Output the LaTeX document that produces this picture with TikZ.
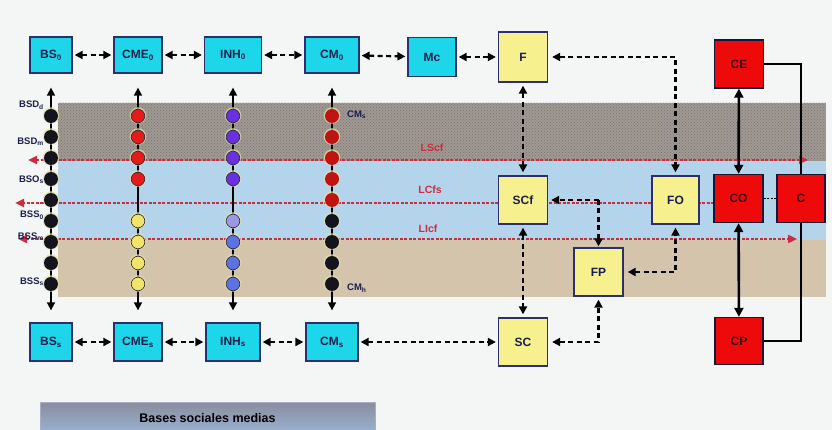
\documentclass[tikz,border=0pt]{standalone}
\usepackage{fontspec}
\setmainfont{Liberation Sans}
\usetikzlibrary{
	arrows.meta,
	calc,
	patterns,
	positioning
}
\definecolor{bgpaper}{HTML}{F4F5F5}
\definecolor{boxcyan}{HTML}{1ED6EA}
\definecolor{boxyel}{HTML}{F7F08E}
\definecolor{boxred}{HTML}{EE0A0A}
\definecolor{boxline}{HTML}{2A2F6E}
\definecolor{inktext}{HTML}{1A1E4E}
\definecolor{redtext}{HTML}{3C0A0A}
\definecolor{bandgray}{HTML}{A09993}
\definecolor{bandgraydk}{HTML}{7A736E}
\definecolor{bandblue}{HTML}{B4D4EC}
\definecolor{bandtan}{HTML}{D5C4AC}
\definecolor{lred}{HTML}{D02A3E}
\definecolor{dotblk}{HTML}{14141E}
\definecolor{dotred}{HTML}{E61A1A}
\definecolor{dotvio}{HTML}{6A30E0}
\definecolor{dotlav}{HTML}{9C98E6}
\definecolor{dotblu}{HTML}{5A72E2}
\definecolor{dotcmr}{HTML}{BE1414}
\definecolor{dotyel}{HTML}{F2E46A}
\definecolor{dotedge}{HTML}{2A2A30}
\definecolor{halo}{HTML}{E4E2A8}

\begin{document}
\begin{tikzpicture}[x=1pt, y=-1pt,
		>={Triangle[length=8pt,width=8pt]},
		every node/.style={font=\bfseries\fontsize{12}{14}\selectfont, text=inktext, inner sep=0pt},
		cbox/.style={draw=boxline, line width=1.3pt, fill=boxcyan, minimum height=36},
		ybox/.style={draw=boxline, line width=1.3pt, fill=boxyel, minimum width=49, minimum height=48},
		rbox/.style={draw=boxline!50!black, line width=1.3pt, fill=boxred, minimum width=49, minimum height=48, text=redtext},
		dl/.style={line width=2.2pt, dash pattern=on 5pt off 3.5pt},
		sl/.style={line width=2.6pt, >={Triangle[length=9pt,width=9pt]}},
		colarr/.style={line width=1.6pt, <->, shorten <=14pt, shorten >=12pt},
		redline/.style={draw=lred, line width=2.4pt, dash pattern=on 3pt off 1.5pt, >={Triangle[length=9pt,width=8pt]}},
		redlab/.style={text=lred, font=\bfseries\fontsize{10.5}{12}\selectfont},
		sidelab/.style={font=\bfseries\fontsize{9.5}{11}\selectfont}
	]
		\useasboundingbox (0,0) rectangle (832,430);
		\fill[bgpaper] (0,0) rectangle (832,430);
		% bands
		\fill[bandgray] (58,103) rectangle (826,161);
		\fill[pattern=crosshatch dots, pattern color=bandgraydk] (58,103) rectangle (826,161);
		\fill[bandblue] (58,161) rectangle (826,240);
		\fill[bandtan] (58,240) rectangle (826,297);
		% red lines
		\coordinate (lsL) at (28,160); \coordinate (lsR) at (808,160);
		\coordinate (lcL) at (15,203); \coordinate (lcR) at (714,203);
		\coordinate (liL) at (18,239); \coordinate (liR) at (797,239);
		\draw[redline, <->] (lsL) -- (lsR);
		\draw[redline, ->] (lcR) -- (lcL);
		\draw[redline, <->] (liL) -- (liR);
		\node[redlab] (lScf) at (432,148) {LScf};
		\node[redlab] (lCfs) at (430,190) {LCfs};
		\node[redlab] (lIcf) at (428,229) {LIcf};
		% top row
		\foreach \n/\x/\w/\t in {BS0/51/42/{BS\textsubscript{0}}, CME0/138/48/{CME\textsubscript{0}}, INH0/233/57/{INH\textsubscript{0}}, CM0/332/54/{CM\textsubscript{0}}}
		\node[cbox, minimum width=\w] (\n) at (\x,55) {\t};
		\node[cbox, minimum width=48, minimum height=39] (Mc) at (432,57) {Mc};
		\node[ybox, minimum height=50] (F) at (523,57) {F};
		% bottom row
		\foreach \n/\x/\w/\t in {BSs/51/42/{BS\textsubscript{s}}, CMEs/138/48/{CME\textsubscript{s}}, INHs/233/54/{INH\textsubscript{s}}, CMs/332/52/{CM\textsubscript{s}}}
		\node[cbox, minimum width=\w, minimum height=38] (\n) at (\x,342) {\t};
		\node[ybox] (SC) at (523,342) {SC};
		% middle boxes
		\node[ybox] (SCf) at (523,200) {SCf};
		\node[ybox, minimum width=47] (FO) at (675.5,200) {FO};
		\node[ybox] (FP) at (598.5,272) {FP};
		\node[rbox] (CE) at (739,64) {CE};
		\node[rbox] (CO) at (738.5,198.5) {CO};
		\node[rbox, minimum width=48] (C) at (801,198.5) {C};
		\node[rbox, minimum width=48, minimum height=47] (CP) at (739,341) {CP};
		% columns
		\foreach \a/\b in {BS0/BSs, CME0/CMEs, INH0/INHs, CM0/CMs}
		\draw[colarr] (\a.south) -- (\b.north);
		\foreach \i in {0,...,8}{
			\fill[halo, opacity=0.7] (51,115.5+21*\i) circle (8.3);
			\fill[dotblk] (51,116+21*\i) circle (7);
		}
		\foreach \i/\c in {0/dotred,1/dotred,2/dotred,3/dotred,5/dotyel,6/dotyel,7/dotyel,8/dotyel}{
			\fill[halo, opacity=0.7] (138,115.5+21*\i) circle (8.3);
			\filldraw[fill=\c, draw=dotedge, line width=0.6pt] (138,116+21*\i) circle (6.8);
		}
		\foreach \i/\c in {0/dotvio,1/dotvio,2/dotvio,3/dotvio,5/dotlav,6/dotblu,7/dotblu,8/dotblu}{
			\fill[halo, opacity=0.7] (233,115.5+21*\i) circle (8.3);
			\filldraw[fill=\c, draw=dotedge, line width=0.6pt] (233,116+21*\i) circle (6.8);
		}
		\foreach \i/\c in {0/dotcmr,1/dotcmr,2/dotcmr,3/dotcmr,4/dotcmr,5/dotblk,6/dotblk,7/dotblk,8/dotblk}{
			\fill[halo, opacity=0.7] (332,115.5+21*\i) circle (8.3);
			\fill[\c] (332,116+21*\i) circle (7);
		}
		% side labels
		\foreach \n/\y/\t in {bsdd/105/{BSD\textsubscript{d}}, bsdm/142/{BSD\textsubscript{m}}, bsos/180/{BSO\textsubscript{s}}, bss0/215/{BSS\textsubscript{0}}, bssm/237/{BSS\textsubscript{m}}, bsss/282/{BSS\textsubscript{s}}}
		\node[sidelab, anchor=east] (\n) at (44,\y) {\t};
		\node[sidelab, anchor=west] (cmtop) at (347,115) {CM\textsubscript{s}};
		\node[sidelab, anchor=west] (cmbot) at (347,288) {CM\textsubscript{h}};
		% top and bottom chains
		\foreach \a/\b in {BS0/CME0, CME0/INH0, INH0/CM0, CM0/Mc, Mc/F, BSs/CMEs, CMEs/INHs, INHs/CMs, CMs/SC}
		\draw[dl, <->, shorten <=2pt, shorten >=2pt] (\a) -- (\b);
		% yellow links
		\draw[dl, <->, shorten <=3pt, shorten >=3pt] (F) -- (SCf);
		\draw[dl, <->, shorten <=3pt, shorten >=3pt] (SCf) -- (SC);
		\draw[dl, <->, shorten <=4pt, shorten >=3pt] (F.east) -| (FO.north);
		\draw[dl, <->, shorten <=4pt, shorten >=3pt] (FP.east) -| (FO.south);
		\draw[dl, <->, shorten <=4pt, shorten >=3pt] (SC.east) -| (FP.south);
		\coordinate (jct) at (FP.north |- SCf.east);
		\draw[dl, ->, shorten >=3pt] (jct) -- (SCf.east);
		\draw[dl, ->, shorten >=1pt] (jct) -- (FP.north);
		% red links
		\draw[sl, <->] (CE) -- (CO);
		\draw[sl, <->] (CO) -- (CP);
		\draw[line width=1.6pt, dash pattern=on 2pt off 1.5pt] (CO.east) -- (C.west);
		\draw[line width=1.8pt] (CE.east) -| (C.north);
		\draw[line width=1.8pt] (C.south) |- (CP.east);
		% legend
		\node[draw=boxline!40, line width=0.6pt, top color=black!45!boxline!50!white, bottom color=bandblue!80!boxline, minimum width=335, minimum height=32, text=black, font=\bfseries\fontsize{12.5}{14}\selectfont] (legend) at (207.5,418) {Bases sociales medias};
	\end{tikzpicture}
\end{document}
